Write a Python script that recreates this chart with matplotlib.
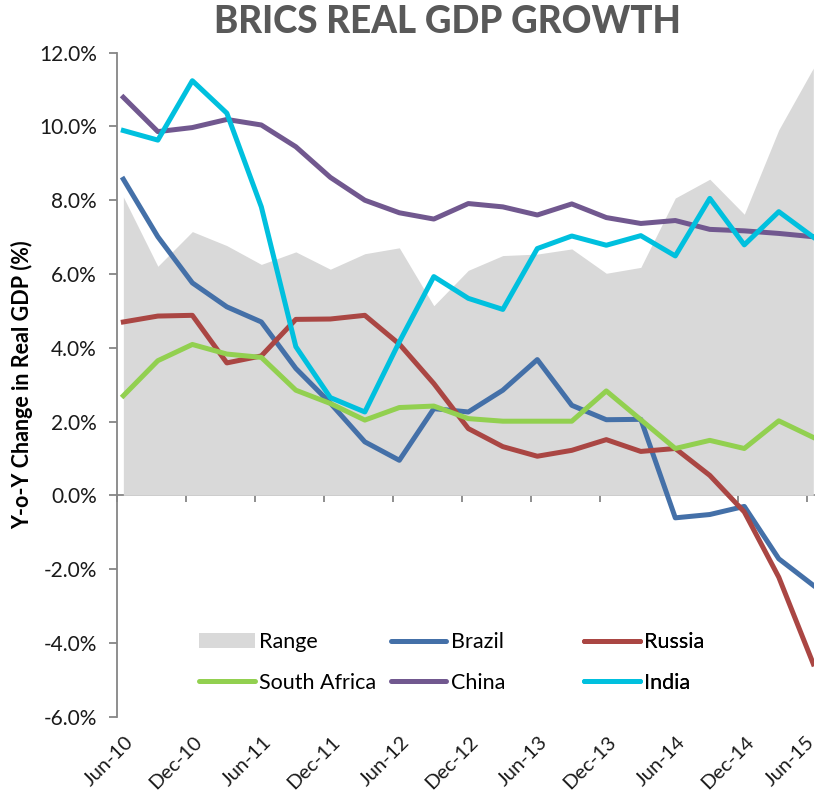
import numpy as np
import matplotlib
matplotlib.use("Agg")
import matplotlib.pyplot as plt
from matplotlib.patches import Patch
from matplotlib.lines import Line2D
import matplotlib.transforms as mtransforms

# Quarterly year-on-year real GDP growth (%), Jun-10 .. Jun-15
quarters = ["Jun-10", "Sep-10", "Dec-10", "Mar-11", "Jun-11", "Sep-11", "Dec-11",
            "Mar-12", "Jun-12", "Sep-12", "Dec-12", "Mar-13", "Jun-13", "Sep-13",
            "Dec-13", "Mar-14", "Jun-14", "Sep-14", "Dec-14", "Mar-15", "Jun-15"]

brazil = [8.57, 7.01, 5.76, 5.11, 4.70, 3.44, 2.50, 1.45, 0.95, 2.35, 2.26,
          2.85, 3.68, 2.44, 2.05, 2.06, -0.61, -0.52, -0.30, -1.72, -2.44]
russia = [4.70, 4.86, 4.88, 3.59, 3.78, 4.77, 4.78, 4.88, 4.10, 3.03, 1.81,
          1.32, 1.06, 1.22, 1.51, 1.19, 1.27, 0.54, -0.45, -2.22, -4.57]
south_africa = [2.70, 3.65, 4.09, 3.83, 3.74, 2.85, 2.49, 2.04, 2.38, 2.42, 2.08,
                2.01, 2.01, 2.01, 2.83, 2.05, 1.27, 1.49, 1.27, 2.02, 1.57]
china = [10.79, 9.86, 9.97, 10.19, 10.04, 9.45, 8.62, 8.00, 7.66, 7.49, 7.91,
         7.82, 7.60, 7.90, 7.53, 7.37, 7.45, 7.21, 7.17, 7.10, 7.01]
india = [9.89, 9.63, 11.24, 10.36, 7.82, 4.03, 2.65, 2.26, 4.16, 5.93, 5.34,
         5.04, 6.69, 7.03, 6.78, 7.04, 6.49, 8.05, 6.79, 7.69, 7.00]
# spread between the highest and lowest BRICS reading each quarter
gdp_range = [8.09, 6.21, 7.15, 6.77, 6.26, 6.60, 6.13, 6.55, 6.71, 5.14, 6.10,
             6.50, 6.54, 6.68, 6.02, 6.18, 8.06, 8.57, 7.62, 9.91, 11.58]

tick_labels = quarters[::2]

c_range = "#d9d9d9"
c_brazil = "#4470a8"
c_russia = "#aa4643"
c_sa = "#92d050"
c_china = "#71588f"
c_india = "#00c0de"
axis_grey = "#868686"

plt.rcParams["font.family"] = ["Lato", "DejaVu Sans"]

fig = plt.figure(figsize=(8.17, 7.97), dpi=100)
ax = fig.add_axes([0.1438, 0.1008, 0.8525, 0.8331])

x = np.arange(len(quarters))
lw = 3.6
ax.fill_between(x, 0, gdp_range, color=c_range, linewidth=0, zorder=1)
ax.plot(x, brazil, color=c_brazil, lw=lw, zorder=3)
ax.plot(x, russia, color=c_russia, lw=lw, zorder=3)
ax.plot(x, south_africa, color=c_sa, lw=lw, zorder=3)
ax.plot(x, china, color=c_china, lw=lw, zorder=3)
ax.plot(x, india, color=c_india, lw=lw, zorder=3)

ymin, ymax = -6, 12
ax.set_ylim(ymin, ymax)
ax.set_xlim(-0.17, 20.02)
ax.set_yticks(np.arange(-6, 12.1, 2))
ax.set_yticklabels([f"{v:.1f}%" for v in np.arange(-6, 12.1, 2)])
ax.tick_params(axis="y", direction="out", length=6, width=1.3, color=axis_grey,
               pad=9, labelsize=15, labelcolor="#1a1a1a")

for s in ["top", "right", "bottom"]:
    ax.spines[s].set_visible(False)
ax.spines["left"].set_color(axis_grey)
ax.spines["left"].set_linewidth(1.3)

# category ticks sit slightly left of the data points, like the Excel date axis
tick_pos = np.arange(0, len(quarters), 2) - 0.17
ax.set_xticks(tick_pos)
ax.set_xticklabels(tick_labels)
ax.tick_params(axis="x", length=0, pad=12, labelsize=14.5, labelcolor="#1a1a1a")
xlabels = ax.get_xticklabels()
for i, lab in enumerate(xlabels):
    # pull the last label in a little so it stays inside the figure
    dx = 7 if i < len(xlabels) - 1 else -2
    shift = mtransforms.ScaledTranslation(dx / 100, 0, fig.dpi_scale_trans)
    lab.set_rotation(45)
    lab.set_ha("right")
    lab.set_va("top")
    lab.set_rotation_mode("anchor")
    lab.set_transform(lab.get_transform() + shift)

# zero line carrying the tick marks
zero_ax = ax.secondary_xaxis((0 - ymin) / (ymax - ymin))
zero_ax.set_xticks(tick_pos)
zero_ax.set_xticklabels([])
zero_ax.tick_params(direction="out", length=5, width=1.3, color=axis_grey)
zero_ax.spines["bottom"].set_color(axis_grey)
zero_ax.spines["bottom"].set_linewidth(1.3)

ax.set_ylabel("Y-o-Y Change in Real GDP (%)", fontsize=15.5, fontweight="bold")
ax.yaxis.set_label_coords(-0.121, 0.5)

fig.text(0.548, 0.973, "BRICS REAL GDP GROWTH", ha="center", va="center",
         fontsize=26.5, fontweight="black", color="#595959")

# legend: three columns of equal width like the Excel legend
cols = [
    [(Patch(color=c_range, linewidth=0), "Range"),
     (Line2D([], [], color=c_sa, lw=lw, solid_capstyle="round"), "South Africa")],
    [(Line2D([], [], color=c_brazil, lw=lw, solid_capstyle="round"), "Brazil"),
     (Line2D([], [], color=c_china, lw=lw, solid_capstyle="round"), "China")],
    [(Line2D([], [], color=c_russia, lw=lw, solid_capstyle="round"), "Russia"),
     (Line2D([], [], color=c_india, lw=lw, solid_capstyle="round"), "India")],
]
col_x = [0.117, 0.392, 0.670]
for cx, entries in zip(col_x, cols):
    leg = ax.legend([h for h, _ in entries], [t for _, t in entries],
                    loc="center left", bbox_to_anchor=(cx, 0.0815),
                    frameon=False, fontsize=15.5, handlelength=2.6,
                    handletextpad=0.2, labelspacing=0.95, borderpad=0,
                    borderaxespad=0)
    ax.add_artist(leg)

fig.savefig("out.png", dpi=100)
